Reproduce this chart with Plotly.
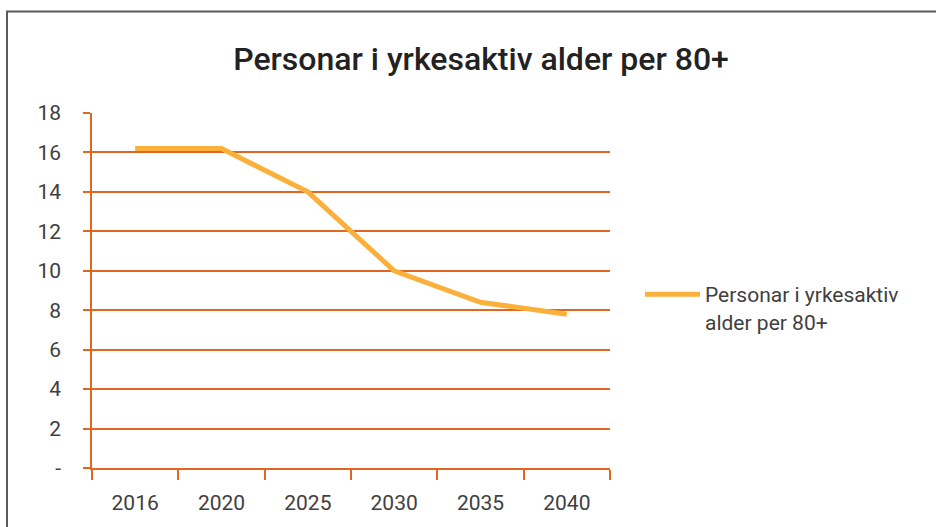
import plotly.graph_objects as go

years = ["2016", "2020", "2025", "2030", "2035", "2040"]
values = [16.2, 16.2, 14.0, 10.0, 8.4, 7.8]
series_name = "Personar i yrkesaktiv<br>alder per 80+"
title_text = "Personar i yrkesaktiv alder per 80+"
y_tickvals = [0, 2, 4, 6, 8, 10, 12, 14, 16, 18]
y_ticktext = ["-", "2", "4", "6", "8", "10", "12", "14", "16", "18"]

GRID = "#E2661F"
LINE = "#FBB03B"
TXT = "#404040"
FONT = "Roboto"

fig = go.Figure()
fig.add_trace(go.Scatter(
    x=years, y=values, mode="lines", name=series_name,
    line=dict(color=LINE, width=5), showlegend=True,
))

L, R, T, B = 92, 326, 113, 57
W, H = 936, 527
pw, ph = W - L - R, H - T - B

def px_x(p):
    return (p - L) / pw

def px_y(p):
    return (H - B - p) / ph

fig.update_layout(
    width=W, height=H,
    margin=dict(l=L, r=R, t=T, b=B),
    paper_bgcolor="white", plot_bgcolor="white",
    font=dict(family=FONT, size=21, color=TXT),
    title=dict(text=title_text, x=481 / W, xanchor="center",
               y=1 - 59 / H, yanchor="middle",
               font=dict(family=FONT, size=32, color="#222222", weight=500)),
    showlegend=True,
    legend=dict(x=px_x(640), y=px_y(275), xanchor="left", yanchor="top",
                font=dict(family=FONT, size=21, color=TXT),
                bgcolor="rgba(0,0,0,0)", valign="top", itemwidth=55),
    xaxis=dict(type="category", range=[-0.5, 5.5], showgrid=False, showline=True,
               linecolor=GRID, linewidth=1.5, ticks="outside", tickson="boundaries",
               ticklen=10, tickcolor=GRID, tickwidth=1.5,
               tickfont=dict(size=21, color=TXT),
               ticklabelstandoff=15, zeroline=False),
    yaxis=dict(range=[0, 18], tickvals=y_tickvals, ticktext=y_ticktext,
               showgrid=True, gridcolor=GRID, gridwidth=1.5, showline=True,
               linecolor=GRID, linewidth=1.5, ticks="outside", ticklen=7,
               tickcolor=GRID, tickwidth=1.5, tickfont=dict(size=21, color=TXT),
               ticklabelstandoff=18, zeroline=False),
    shapes=[dict(type="rect", xref="paper", yref="paper",
                 x0=px_x(7), x1=px_x(945), y0=px_y(540), y1=px_y(11),
                 line=dict(color="#595959", width=2), fillcolor="rgba(0,0,0,0)",
                 layer="below")],
)

fig.write_html("out.html", config={"displayModeBar": False},
               post_script="document.body.style.margin='0';")
